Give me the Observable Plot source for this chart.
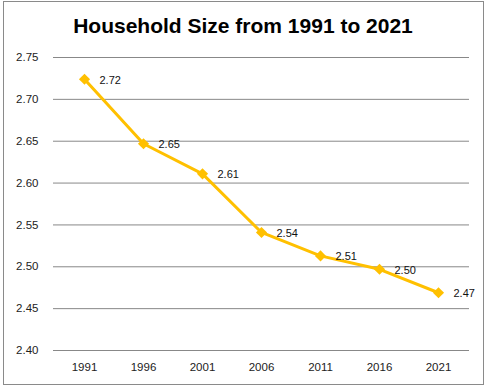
<!DOCTYPE html>
<html>
<head>
<meta charset="utf-8">
<script src="https://cdn.jsdelivr.net/npm/d3@7"></script>
<script src="https://cdn.jsdelivr.net/npm/@observablehq/plot@0.6"></script>
<style>
  html, body { margin: 0; padding: 0; background: #fff; }
  #wrap { position: relative; width: 489px; height: 389px; overflow: hidden; }
  #frame { position: absolute; left: 3px; top: 1px; width: 479px; height: 382px; border: 1px solid #8a8a8a; box-sizing: content-box; }
  #title { position: absolute; left: 0; top: 14px; width: 486px; text-align: center;
           font-family: "Liberation Sans", Arial, sans-serif; font-weight: bold; font-size: 21px; color: #000; }
  #chart { position: absolute; left: 0; top: 0; }
</style>
</head>
<body>
<div id="wrap">
  <div id="frame"></div>
  <div id="title">Household Size from 1991 to 2021</div>
  <div id="chart"></div>
</div>
<script>
const years = ["1991", "1996", "2001", "2006", "2011", "2016", "2021"];
const sizes = [2.724, 2.647, 2.611, 2.541, 2.513, 2.497, 2.469];
const labels = ["2.72", "2.65", "2.61", "2.54", "2.51", "2.50", "2.47"];
const yTicks = [2.40, 2.45, 2.50, 2.55, 2.60, 2.65, 2.70, 2.75];

const data = years.map((y, i) => ({year: y, size: sizes[i], label: labels[i]}));

const chart = Plot.plot({
  width: 489,
  height: 389,
  marginTop: 57,
  marginBottom: 39,
  marginLeft: 53,
  marginRight: 20,
  style: {fontFamily: "Liberation Sans, Arial, sans-serif", fontSize: "11.5px", color: "#222", background: "transparent", overflow: "visible"},
  x: {type: "point", domain: years, padding: 0.5, label: null},
  y: {domain: [2.40, 2.75], label: null},
  marks: [
    Plot.ruleY(yTicks, {stroke: "#888", strokeWidth: 1}),
    Plot.axisY(yTicks, {tickSize: 0, tickPadding: 15, tickFormat: d => d.toFixed(2), label: null}),
    Plot.axisX({tickSize: 0, tickPadding: 12, label: null}),
    Plot.line(data, {x: "year", y: "size", stroke: "#FFC000", strokeWidth: 3}),
    Plot.dot(data, {x: "year", y: "size", symbol: "diamond2", fill: "#FFC000", stroke: "none", r: 5}),
    Plot.text(data, {x: "year", y: "size", text: "label", dx: 15, dy: 1, textAnchor: "start", fontSize: 11, fill: "#111"})
  ]
});
document.getElementById("chart").appendChild(chart);
</script>
</body>
</html>
